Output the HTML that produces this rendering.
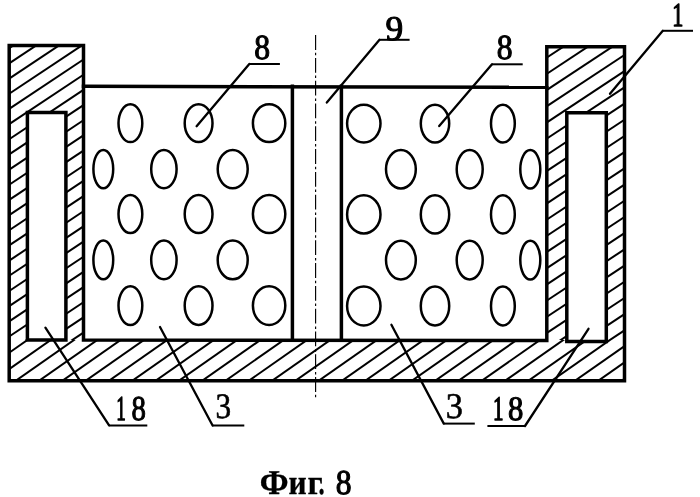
<!DOCTYPE html>
<html><head><meta charset="utf-8"><title>Фиг. 8</title>
<style>html,body{margin:0;padding:0;background:#fff;width:700px;height:497px;overflow:hidden}svg{display:block;will-change:transform}</style>
</head><body>
<svg width="700" height="497" viewBox="0 0 700 497">
<defs>
<clipPath id="cLW"><path clip-rule="evenodd" d="M9.2 45.4H83.5V340.0H9.2Z M27.4 112.5H65.9V340.0H27.4Z"/></clipPath>
<clipPath id="cRW"><path clip-rule="evenodd" d="M546.8 46.8H624.5V340.0H546.8Z M566.8 112.8H606.3V340.0H566.8Z"/></clipPath>
<clipPath id="cB"><rect x="9.2" y="340.0" width="615.3" height="40.80000000000001"/></clipPath>
</defs>
<rect width="700" height="497" fill="#fff"/>
<g clip-path="url(#cLW)" stroke="#000" stroke-width="2.0"><line x1="-10" y1="45.83" x2="710" y2="-432.97"/><line x1="-10" y1="61.00" x2="710" y2="-417.80"/><line x1="-10" y1="76.17" x2="710" y2="-402.63"/><line x1="-10" y1="91.34" x2="710" y2="-387.46"/><line x1="-10" y1="106.51" x2="710" y2="-372.29"/><line x1="-10" y1="121.68" x2="710" y2="-357.12"/><line x1="-10" y1="136.85" x2="710" y2="-341.95"/><line x1="-10" y1="152.02" x2="710" y2="-326.78"/><line x1="-10" y1="167.19" x2="710" y2="-311.61"/><line x1="-10" y1="182.36" x2="710" y2="-296.44"/><line x1="-10" y1="197.53" x2="710" y2="-281.27"/><line x1="-10" y1="212.70" x2="710" y2="-266.10"/><line x1="-10" y1="227.87" x2="710" y2="-250.93"/><line x1="-10" y1="243.04" x2="710" y2="-235.76"/><line x1="-10" y1="258.21" x2="710" y2="-220.59"/><line x1="-10" y1="273.38" x2="710" y2="-205.42"/><line x1="-10" y1="288.55" x2="710" y2="-190.25"/><line x1="-10" y1="303.72" x2="710" y2="-175.08"/><line x1="-10" y1="318.89" x2="710" y2="-159.91"/><line x1="-10" y1="334.06" x2="710" y2="-144.74"/><line x1="-10" y1="349.23" x2="710" y2="-129.57"/><line x1="-10" y1="364.40" x2="710" y2="-114.40"/><line x1="-10" y1="379.57" x2="710" y2="-99.23"/><line x1="-10" y1="394.74" x2="710" y2="-84.06"/><line x1="-10" y1="409.91" x2="710" y2="-68.89"/></g><g clip-path="url(#cRW)" stroke="#000" stroke-width="2.0"><line x1="-10" y1="376.50" x2="710" y2="-98.70"/><line x1="-10" y1="392.70" x2="710" y2="-82.50"/><line x1="-10" y1="408.90" x2="710" y2="-66.30"/><line x1="-10" y1="425.10" x2="710" y2="-50.10"/><line x1="-10" y1="441.30" x2="710" y2="-33.90"/><line x1="-10" y1="457.50" x2="710" y2="-17.70"/><line x1="-10" y1="473.70" x2="710" y2="-1.50"/><line x1="-10" y1="489.90" x2="710" y2="14.70"/><line x1="-10" y1="506.10" x2="710" y2="30.90"/><line x1="-10" y1="522.30" x2="710" y2="47.10"/><line x1="-10" y1="538.50" x2="710" y2="63.30"/><line x1="-10" y1="554.70" x2="710" y2="79.50"/><line x1="-10" y1="570.90" x2="710" y2="95.70"/><line x1="-10" y1="587.10" x2="710" y2="111.90"/><line x1="-10" y1="603.30" x2="710" y2="128.10"/><line x1="-10" y1="619.50" x2="710" y2="144.30"/><line x1="-10" y1="635.70" x2="710" y2="160.50"/><line x1="-10" y1="651.90" x2="710" y2="176.70"/><line x1="-10" y1="668.10" x2="710" y2="192.90"/><line x1="-10" y1="684.30" x2="710" y2="209.10"/><line x1="-10" y1="700.50" x2="710" y2="225.30"/><line x1="-10" y1="716.70" x2="710" y2="241.50"/><line x1="-10" y1="732.90" x2="710" y2="257.70"/><line x1="-10" y1="749.10" x2="710" y2="273.90"/><line x1="-10" y1="765.30" x2="710" y2="290.10"/><line x1="-10" y1="781.50" x2="710" y2="306.30"/><line x1="-10" y1="797.70" x2="710" y2="322.50"/><line x1="-10" y1="813.90" x2="710" y2="338.70"/></g><g clip-path="url(#cB)" stroke="#000" stroke-width="2.0"><line x1="-10" y1="300.94" x2="710" y2="-203.06"/><line x1="-10" y1="317.25" x2="710" y2="-186.75"/><line x1="-10" y1="333.56" x2="710" y2="-170.44"/><line x1="-10" y1="349.87" x2="710" y2="-154.13"/><line x1="-10" y1="366.18" x2="710" y2="-137.82"/><line x1="-10" y1="382.49" x2="710" y2="-121.51"/><line x1="-10" y1="398.80" x2="710" y2="-105.20"/><line x1="-10" y1="415.11" x2="710" y2="-88.89"/><line x1="-10" y1="431.42" x2="710" y2="-72.58"/><line x1="-10" y1="447.73" x2="710" y2="-56.27"/><line x1="-10" y1="464.04" x2="710" y2="-39.96"/><line x1="-10" y1="480.35" x2="710" y2="-23.65"/><line x1="-10" y1="496.66" x2="710" y2="-7.34"/><line x1="-10" y1="512.97" x2="710" y2="8.97"/><line x1="-10" y1="529.28" x2="710" y2="25.28"/><line x1="-10" y1="545.59" x2="710" y2="41.59"/><line x1="-10" y1="561.90" x2="710" y2="57.90"/><line x1="-10" y1="578.21" x2="710" y2="74.21"/><line x1="-10" y1="594.52" x2="710" y2="90.52"/><line x1="-10" y1="610.83" x2="710" y2="106.83"/><line x1="-10" y1="627.14" x2="710" y2="123.14"/><line x1="-10" y1="643.45" x2="710" y2="139.45"/><line x1="-10" y1="659.76" x2="710" y2="155.76"/><line x1="-10" y1="676.07" x2="710" y2="172.07"/><line x1="-10" y1="692.38" x2="710" y2="188.38"/><line x1="-10" y1="708.69" x2="710" y2="204.69"/><line x1="-10" y1="725.00" x2="710" y2="221.00"/><line x1="-10" y1="741.31" x2="710" y2="237.31"/><line x1="-10" y1="757.62" x2="710" y2="253.62"/><line x1="-10" y1="773.93" x2="710" y2="269.93"/><line x1="-10" y1="790.24" x2="710" y2="286.24"/><line x1="-10" y1="806.55" x2="710" y2="302.55"/><line x1="-10" y1="822.86" x2="710" y2="318.86"/><line x1="-10" y1="839.17" x2="710" y2="335.17"/><line x1="-10" y1="855.48" x2="710" y2="351.48"/><line x1="-10" y1="871.79" x2="710" y2="367.79"/></g>
<g fill="none" stroke="#000" stroke-width="3.5" stroke-linejoin="miter" stroke-linecap="square">
<path d="M83.5 340.0V45.4H9.2V380.8H624.5V46.8H546.8V340.6Z"/>
<path d="M27.4 340.0V112.5H65.9V340.0Z"/>
<path d="M566.8 341.4V112.8H606.3V341.4Z"/>
<path d="M83.5 86.3L546.8 87.3"/>
<path d="M292.4 86.3V340.0M341.4 86.3V340.0"/>
</g>
<g fill="none" stroke="#000" stroke-width="2.5"><ellipse cx="130.4" cy="123.2" rx="11.9" ry="18.9"/><ellipse cx="198.6" cy="123.2" rx="13.9" ry="18.9"/><ellipse cx="269.1" cy="123.2" rx="16.2" ry="18.9"/><ellipse cx="363.8" cy="123.6" rx="16.7" ry="18.9"/><ellipse cx="435.0" cy="123.6" rx="14.2" ry="18.9"/><ellipse cx="502.9" cy="123.6" rx="11.9" ry="18.9"/><ellipse cx="130.4" cy="214.0" rx="11.9" ry="19.1"/><ellipse cx="198.6" cy="214.0" rx="13.9" ry="19.1"/><ellipse cx="269.1" cy="214.0" rx="16.2" ry="19.1"/><ellipse cx="363.8" cy="214.4" rx="16.7" ry="19.1"/><ellipse cx="435.0" cy="214.4" rx="14.2" ry="19.1"/><ellipse cx="502.9" cy="214.4" rx="11.9" ry="19.1"/><ellipse cx="130.4" cy="305.6" rx="11.9" ry="19.4"/><ellipse cx="198.6" cy="305.6" rx="13.9" ry="19.4"/><ellipse cx="269.1" cy="305.6" rx="16.2" ry="19.4"/><ellipse cx="363.8" cy="306.0" rx="16.7" ry="19.4"/><ellipse cx="435.0" cy="306.0" rx="14.2" ry="19.4"/><ellipse cx="502.9" cy="306.0" rx="11.9" ry="19.4"/><ellipse cx="103.3" cy="169.1" rx="9.9" ry="19.2"/><ellipse cx="163.9" cy="169.1" rx="12.7" ry="19.2"/><ellipse cx="232.7" cy="169.1" rx="15.0" ry="19.2"/><ellipse cx="400.9" cy="169.3" rx="14.9" ry="19.2"/><ellipse cx="469.7" cy="169.3" rx="13.0" ry="19.2"/><ellipse cx="530.3" cy="169.3" rx="10.0" ry="19.2"/><ellipse cx="103.3" cy="259.9" rx="9.9" ry="19.4"/><ellipse cx="163.9" cy="259.9" rx="12.7" ry="19.4"/><ellipse cx="232.7" cy="259.9" rx="15.0" ry="19.4"/><ellipse cx="400.9" cy="260.1" rx="14.9" ry="19.4"/><ellipse cx="469.7" cy="260.1" rx="13.0" ry="19.4"/><ellipse cx="530.3" cy="260.1" rx="10.0" ry="19.4"/></g>
<line x1="315.6" y1="35.1" x2="315.6" y2="397.8" stroke="#000" stroke-width="1.15" stroke-dasharray="14.8 2.9 2.5 2.6"/>
<g fill="none" stroke="#000" stroke-linecap="butt"><g stroke-width="2.0"><path d="M279.9 64.0H249.3"/><path d="M409.6 39.8H379.5"/><path d="M522.7 64.3H492.0"/><path d="M693.0 30.8H662.8"/><path d="M147.3 425.4H109.1"/><path d="M244.3 425.5H212.6"/><path d="M474.8 423.6H443.8"/><path d="M487.4 426.0H525.0"/></g><g stroke-width="2.3" stroke-linecap="round"><path d="M249.3 64.0L196.6 126.2"/><path d="M379.5 39.8L326.8 102.5"/><path d="M492.0 64.3L439.2 126.1"/><path d="M662.8 30.8L610.0 93.8"/><path d="M109.1 425.4L45.4 327.6"/><path d="M212.6 425.5L160.0 327.0"/><path d="M443.8 423.6L391.4 324.8"/><path d="M525.0 426.0L588.5 328.8"/></g></g>
<g font-family="'Liberation Serif', serif" fill="#000" stroke="#000" stroke-linejoin="round" style="text-rendering:geometricPrecision"><text y="59.01" font-size="35.27"><tspan x="254.25" textLength="15.81" lengthAdjust="spacingAndGlyphs" font-weight="normal" stroke-width="1.1">8</tspan></text><text y="39.61" font-size="34.83"><tspan x="385.61" textLength="17.69" lengthAdjust="spacingAndGlyphs" font-weight="normal" stroke-width="1.1">9</tspan></text><text y="59.41" font-size="35.27"><tspan x="496.85" textLength="15.81" lengthAdjust="spacingAndGlyphs" font-weight="normal" stroke-width="1.1">8</tspan></text><text y="26.05" font-size="33.48"><tspan x="672.20" textLength="11.08" lengthAdjust="spacingAndGlyphs" font-weight="normal" stroke-width="1.5">1</tspan></text><text y="419.98" font-size="34.91"><tspan x="116.18" textLength="9.52" lengthAdjust="spacingAndGlyphs" font-weight="normal" stroke-width="1.5">1</tspan><tspan x="131.55" textLength="14.39" lengthAdjust="spacingAndGlyphs" font-weight="normal" stroke-width="1.1">8</tspan></text><text y="418.05" font-size="35.72"><tspan x="215.51" textLength="15.61" lengthAdjust="spacingAndGlyphs" font-weight="normal" stroke-width="0.6">3</tspan></text><text y="418.35" font-size="36.17"><tspan x="445.86" textLength="17.19" lengthAdjust="spacingAndGlyphs" font-weight="normal" stroke-width="0.6">3</tspan></text><text y="420.18" font-size="34.31"><tspan x="492.90" textLength="10.51" lengthAdjust="spacingAndGlyphs" font-weight="normal" stroke-width="1.5">1</tspan><tspan x="508.08" textLength="15.34" lengthAdjust="spacingAndGlyphs" font-weight="normal" stroke-width="1.1">8</tspan></text><text y="494.05" font-size="34.86"><tspan x="259.66" textLength="28.79" lengthAdjust="spacingAndGlyphs" font-weight="bold" stroke-width="0.3">Ф</tspan><tspan x="288.42" textLength="18.16" lengthAdjust="spacingAndGlyphs" font-weight="bold" stroke-width="0.3">и</tspan><tspan x="307.47" textLength="15.14" lengthAdjust="spacingAndGlyphs" font-weight="bold" stroke-width="0.3">г</tspan><tspan x="318.47" textLength="6.17" lengthAdjust="spacingAndGlyphs" font-weight="bold" stroke-width="0.3">.</tspan> <tspan x="335.85" textLength="15.81" lengthAdjust="spacingAndGlyphs" font-weight="normal" stroke-width="1.1">8</tspan></text></g>

</svg>
</body></html>
